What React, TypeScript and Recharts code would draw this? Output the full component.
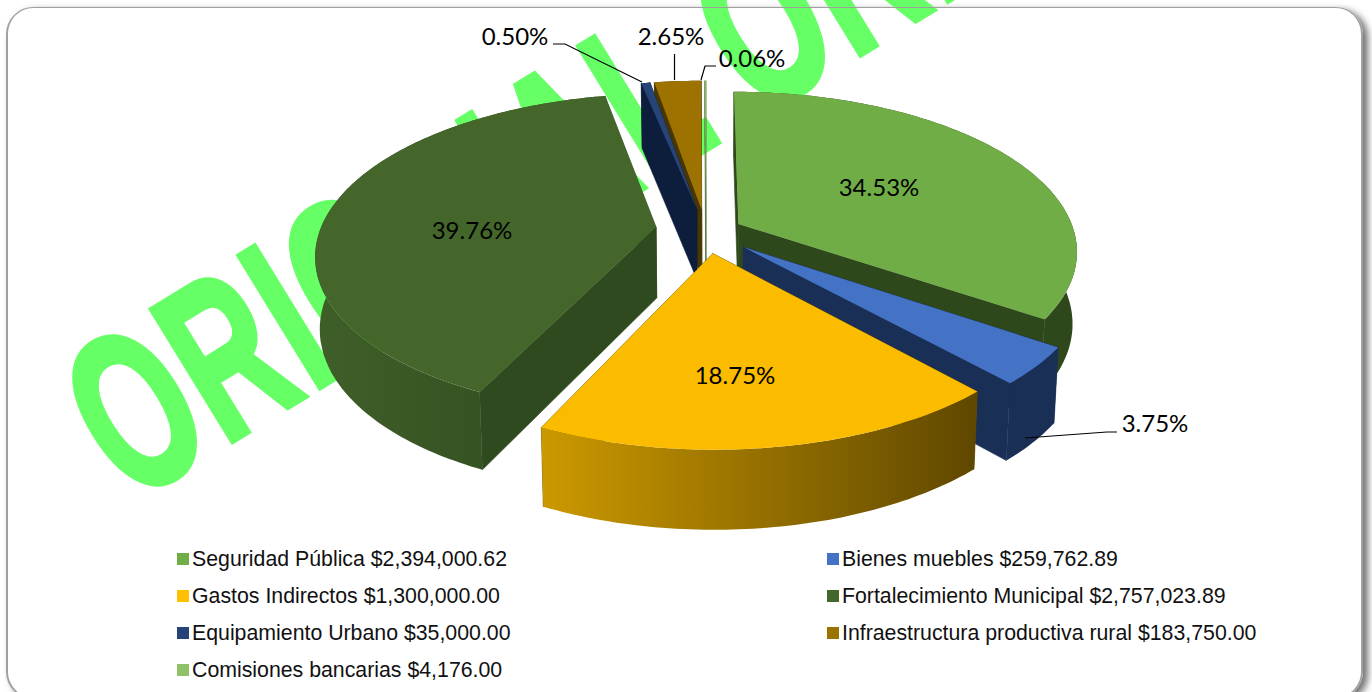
import React from "react";
import { PieChart, Pie, Legend } from "recharts";

const categories = [
  "Seguridad Pública",
  "Bienes muebles",
  "Gastos Indirectos",
  "Fortalecimiento Municipal",
  "Equipamiento Urbano",
  "Infraestructura productiva rural",
  "Comisiones bancarias",
];
const amounts = [2394000.62, 259762.89, 1300000.0, 2757023.89, 35000.0, 183750.0, 4176.0];
const amountLabels = ["$2,394,000.62", "$259,762.89", "$1,300,000.00", "$2,757,023.89", "$35,000.00", "$183,750.00", "$4,176.00"];

const tableData = categories.map((name, i) => ({ name, value: amounts[i], amount: amountLabels[i] }));

// styling, by slice order
const topColors = ["#70ad47", "#4472c4", "#fbbc00", "#44662b", "#264478", "#9e7200", "#8fc168"];
const legendColors = ["#70ad47", "#4472c4", "#ffc000", "#43682b", "#264478", "#997300", "#8fc168"];
const sideColors = ["#2e481c", "#1a2f55", "#664c00", "#2f4a1e", "#0d1e3c", "#4a3600", "#4f6f38"];
const wallGradients: ([string, string] | null)[] = [null, null, ["#cc9900", "#5f4700"], ["#3f5f29", "#2f4a1e"], null, null, null];
const explode = [0.11, 0.145, 0.136, 0.15, 0.15, 0.15, 0.15];
const lift = [0, 0, 0, -2, 0, 0, 0];

const labelSpots: Record<string, { x: number; y: number; leader?: [number, number][] }> = {
  "Seguridad Pública": { x: 879, y: 186.5 },
  "Bienes muebles": { x: 1155, y: 422.5, leader: [[1025, 438], [1107, 432], [1117, 432]] },
  "Gastos Indirectos": { x: 735, y: 374.5 },
  "Fortalecimiento Municipal": { x: 472, y: 229.5 },
  "Equipamiento Urbano": { x: 515, y: 35.5, leader: [[553, 44], [565, 44], [642, 82]] },
  "Infraestructura productiva rural": { x: 671, y: 35.5, leader: [[674.5, 54], [674.5, 80]] },
  "Comisiones bancarias": { x: 752, y: 57.5, leader: [[716, 66], [705, 66], [701, 80]] },
};

const K = 0.1634;
const FLAT = 156.3 / 336;

function makeProjector(cx: number, cy: number, R: number, u: number, mid: number, dy: number) {
  const ex = u * Math.sin(mid);
  const ef = -u * Math.cos(mid);
  const rawProject = (r: number, th: number) => {
    const X = r * Math.sin(th) + ex;
    const F = -r * Math.cos(th) + ef;
    const s = 1 / (1 - K * F);
    return { x: cx + R * X * s, y: cy + dy + R * FLAT * F * s, s };
  };
  const top = (r: number, th: number): [number, number] => {
    const p = rawProject(r, th);
    return [p.x, p.y];
  };
  const bottom = (r: number, th: number): [number, number] => {
    const p = rawProject(r, th);
    return [cx + (p.x - cx) * 0.988, p.y + 71 + 40 * (p.s - 1)];
  };
  return { top, bottom };
}

const toPath = (pts: [number, number][]) =>
  "M" + pts.map((p) => p[0].toFixed(1) + "," + p[1].toFixed(1)).join("L") + "Z";

type Layer = "backWalls" | "walls" | "tops";

const makeShape = (layer: Layer) => (props: any) => {
  const { cx, cy, outerRadius, startAngle, endAngle, name } = props;
  const i = categories.indexOf(name);
  const th0 = ((90 - startAngle) * Math.PI) / 180;
  const th1 = ((90 - endAngle) * Math.PI) / 180;
  const mid = (th0 + th1) / 2;
  const P = makeProjector(cx, cy, outerRadius, explode[i], mid, lift[i]);
  const steps = Math.max(2, Math.ceil(Math.abs(th1 - th0) / (Math.PI / 180)));
  const arcAngles: number[] = [];
  for (let k = 0; k <= steps; k++) arcAngles.push(th0 + ((th1 - th0) * k) / steps);

  if (layer === "tops") {
    const pts: [number, number][] = [P.top(0, 0), ...arcAngles.map((a) => P.top(1, a))];
    return <path d={toPath(pts)} fill={topColors[i]} />;
  }
  const isBack = i >= 5;
  if ((layer === "backWalls") !== isBack) return <g />;

  const quad = (a: number): [number, number][] => [P.top(0, 0), P.top(1, a), P.bottom(1, a), P.bottom(0, 0)];
  const outer: [number, number][] = [
    ...arcAngles.map((a) => P.top(1, a)),
    ...arcAngles.slice().reverse().map((a) => P.bottom(1, a)),
  ];
  const grad = wallGradients[i];
  const gid = "wall-" + i;
  return (
    <g>
      {grad && (
        <defs>
          <linearGradient id={gid} x1="0" y1="0" x2="1" y2="0">
            <stop offset="0" stopColor={grad[0]} />
            <stop offset="1" stopColor={grad[1]} />
          </linearGradient>
        </defs>
      )}
      <path d={toPath(quad(th0))} fill={sideColors[i]} stroke={sideColors[i]} strokeWidth={0.6} />
      <path d={toPath(quad(th1))} fill={sideColors[i]} stroke={sideColors[i]} strokeWidth={0.6} />
      <path d={toPath(outer)} fill={grad ? `url(#${gid})` : sideColors[i]} />
    </g>
  );
};

const renderLabel = (props: any) => {
  const spot = labelSpots[props.name];
  if (!spot) return null;
  const pct = (props.percent * 100).toFixed(2) + "%";
  return (
    <g>
      {spot.leader && (
        <polyline
          points={spot.leader.map((p) => p.join(",")).join(" ")}
          fill="none"
          stroke="#000"
          strokeWidth={1.2}
        />
      )}
      <text
        x={spot.x}
        y={spot.y}
        textAnchor="middle"
        dominantBaseline="central"
        fontFamily="Lato, Carlito, sans-serif"
        fontSize={24}
        fill="#000"
      >
        {pct}
      </text>
    </g>
  );
};

const legendColumns = [177, 827];
const legendRows = [559, 596, 633, 670];

const renderLegend = () => (
  <div style={{ position: "relative", width: 1372, height: 692 }}>
    {tableData.map((d, i) => {
      const x = legendColumns[i % 2];
      const y = legendRows[Math.floor(i / 2)];
      return (
        <div
          key={d.name}
          style={{
            position: "absolute",
            left: x,
            top: y - 13,
            height: 26,
            lineHeight: "26px",
            whiteSpace: "nowrap",
            fontFamily: "'Liberation Sans', Arial, sans-serif",
            fontSize: 21.3,
            color: "#111",
          }}
        >
          <span
            style={{
              position: "absolute",
              left: 0,
              top: 7,
              width: 12,
              height: 12,
              background: legendColors[i],
            }}
          />
          <span style={{ marginLeft: 15 }}>{d.name + " " + d.amount}</span>
        </div>
      );
    })}
  </div>
);

const watermarkWords = ["ORIGINAL", "ORIGINAL"];

export default function App() {
  return (
    <div style={{ position: "absolute", left: 0, top: 0, width: 1372, height: 692, overflow: "hidden", background: "#fff" }}>
      <div
        style={{
          position: "absolute",
          left: 6,
          top: 7,
          width: 1357,
          height: 692,
          boxSizing: "border-box",
          borderRadius: 27,
          background: "#fff",
          boxShadow: "5px 3px 7px rgba(0,0,0,0.55)",
        }}
      />
      <svg width={1372} height={692} style={{ position: "absolute", left: 0, top: 0 }}>
        <text
          transform="translate(130,504) rotate(-31.6) scale(0.612,1)"
          fontFamily="'Liberation Sans', Arial, sans-serif"
          fontWeight={700}
          fontSize={224}
          letterSpacing={6}
          fill="#66ff66"
          stroke="#66ff66"
          strokeWidth={6}
        >
          <tspan>{watermarkWords[0]}</tspan>
          <tspan dx={62}>{watermarkWords[1]}</tspan>
        </text>
      </svg>
      <div
        style={{
          position: "absolute",
          left: 6,
          top: 7,
          width: 1357,
          height: 692,
          boxSizing: "border-box",
          borderRadius: 27,
          border: "2px solid #a0a0a0",
          borderTopWidth: 1,
        }}
      />
      <div style={{ position: "absolute", left: 0, top: 0 }}>
        <PieChart width={1372} height={692} margin={{ top: 0, right: 0, bottom: 0, left: 0 }}>
          <Pie
            data={tableData}
            dataKey="value"
            nameKey="name"
            cx={706}
            cy={232}
            outerRadius={336}
            startAngle={90}
            endAngle={-270}
            isAnimationActive={false}
            legendType="none"
            stroke="none"
            shape={makeShape("backWalls")}
            label={false}
            labelLine={false}
          />
          <Pie
            data={tableData}
            dataKey="value"
            nameKey="name"
            cx={706}
            cy={232}
            outerRadius={336}
            startAngle={90}
            endAngle={-270}
            isAnimationActive={false}
            legendType="none"
            stroke="none"
            shape={makeShape("walls")}
            label={false}
            labelLine={false}
          />
          <Pie
            data={tableData}
            dataKey="value"
            nameKey="name"
            cx={706}
            cy={232}
            outerRadius={336}
            startAngle={90}
            endAngle={-270}
            isAnimationActive={false}
            stroke="none"
            shape={makeShape("tops")}
            label={renderLabel}
            labelLine={false}
          />
          <Legend content={renderLegend} wrapperStyle={{ left: 0, top: 0, bottom: "auto", width: 1372, height: 692 }} />
        </PieChart>
      </div>
    </div>
  );
}
